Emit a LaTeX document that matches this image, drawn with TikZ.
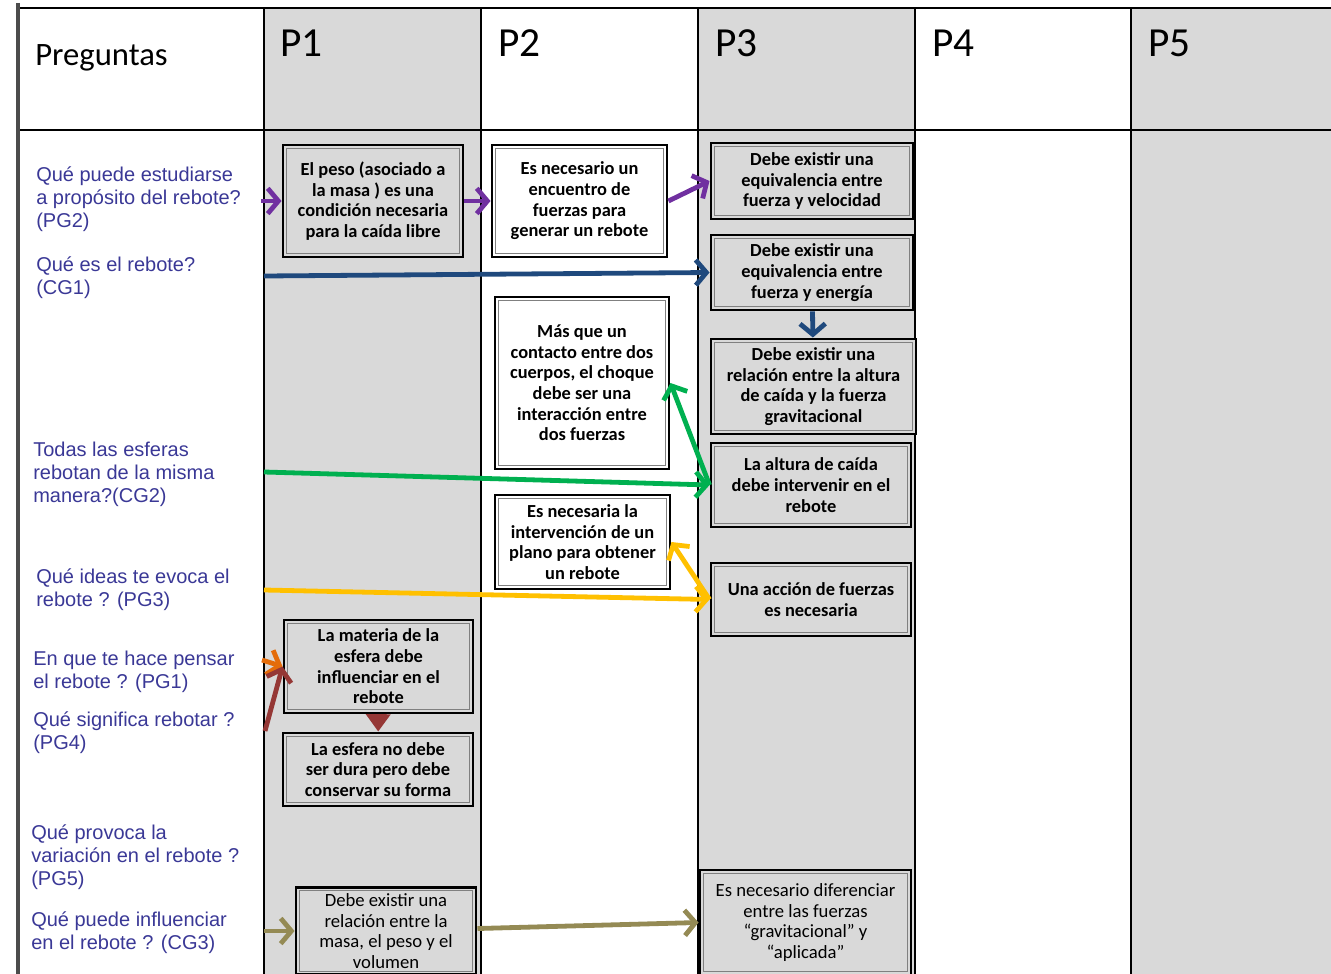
\documentclass[tikz,border=0pt]{standalone}
\usepackage{fontspec}
\setmainfont{Carlito}
\newfontfamily\askfont{Liberation Sans}
\usetikzlibrary{arrows.meta}
\definecolor{cellgray}{RGB}{217,217,217}
\definecolor{askblue}{RGB}{58,56,150}
\definecolor{cpurple}{RGB}{112,48,160}
\definecolor{cblue}{RGB}{31,73,125}
\definecolor{cgreen}{RGB}{0,176,80}
\definecolor{cyellow}{RGB}{255,192,0}
\definecolor{corange}{RGB}{228,108,10}
\definecolor{cbrown}{RGB}{149,55,53}
\definecolor{colive}{RGB}{148,138,84}

\begin{document}
\begin{tikzpicture}[x=0.75pt, y=-0.75pt, >={Straight Barb[length=8pt, width=19pt]},
    idea/.style = {draw, line width=2.2pt, align=center, inner sep=2pt,
      font=\bfseries\fontsize{13.8}{15.5}\selectfont,
      path picture={\draw[gray, line width=0.8pt]
        ([shift={(2.3pt,2.3pt)}]path picture bounding box.south west) rectangle
        ([shift={(-2.3pt,-2.3pt)}]path picture bounding box.north east);}},
    gbox/.style = {idea, fill=cellgray},
    wbox/.style = {idea, fill=white},
    ask/.style = {anchor=base west, align=left, inner sep=0pt, text=askblue,
      font=\askfont\fontsize{15}{16.9}\selectfont},
    head/.style = {anchor=base west, inner sep=0pt, font=\fontsize{31}{31}\selectfont},
    flow/.style = {->, line width=3.6pt}]
    \useasboundingbox (0,0) rectangle (1331,974);

    % Table
    \fill[cellgray] (264,8) rectangle (481,974);
    \fill[cellgray] (698,8) rectangle (915,974);
    \fill[cellgray] (1131,8) rectangle (1331,974);
    \draw[line width=1.8pt] (18,8) -- (1331,8);
    \draw[line width=1.6pt] (18,130) -- (1331,130);
    \foreach \x in {264,481,698,915,1131}
      \draw[line width=1.3pt] (\x,8) -- (\x,974);
    \draw[line width=2.4pt, black!70] (18,3) -- (18,974);

    \node[head, font=\fontsize{24.5}{24.5}\selectfont] (hq) at (35,66) {Preguntas};
    \node[head] (h1) at (280,57) {P1};
    \node[head] (h2) at (498,57) {P2};
    \node[head] (h3) at (715,57) {P3};
    \node[head] (h4) at (932,57) {P4};
    \node[head] (h5) at (1148,57) {P5};

    % Questions (placed at the baseline of their last line)
    \node[ask] (q1) at (36,227) {Qué puede estudiarse\\a propósito del rebote?\\(PG2)};
    \node[ask] (q2) at (36,294) {Qué es el rebote?\\(CG1)};
    \node[ask] (q3) at (33,502) {Todas las esferas\\rebotan de la misma\\manera?(CG2)};
    \node[ask] (q4) at (36,606) {Qué ideas te evoca el\\rebote ? (PG3)};
    \node[ask] (q5) at (33,688) {En que te hace pensar\\el rebote ? (PG1)};
    \node[ask] (q6) at (33,749) {Qué significa rebotar ?\\(PG4)};
    \node[ask] (q7) at (31,885) {Qué provoca la\\variación en el rebote ?\\(PG5)};
    \node[ask] (q8) at (31,949) {Qué puede influenciar\\en el rebote ? (CG3)};

    % Nodes
    \node[gbox, minimum width=135pt, minimum height=84pt] (b1) at (373,201)
      {El peso (asociado a\\la masa ) es una\\condición necesaria\\para la caída libre};
    \node[gbox, minimum width=141.75pt, minimum height=69.75pt] (b2) at (378.5,666.5)
      {La materia de la\\esfera debe\\influenciar en el\\rebote};
    \node[gbox, minimum width=142.5pt, minimum height=54.75pt] (b3) at (378,769.5)
      {La esfera no debe\\ser dura pero debe\\conservar su forma};
    \node[gbox, font=\fontsize{14}{15.5}\selectfont, minimum width=135pt, minimum height=65pt] (b4) at (386,931)
      {Debe existir una\\relación entre la\\masa, el peso y el\\volumen};

    \node[wbox, minimum width=131.25pt, minimum height=84pt] (c1) at (579.5,201)
      {Es necesario un\\encuentro de\\fuerzas para\\generar un rebote};
    \node[wbox, minimum width=130.5pt, minimum height=129pt] (c2) at (582,383)
      {Más que un\\contacto entre dos\\cuerpos, el choque\\debe ser una\\interacción entre\\dos fuerzas};
    \node[wbox, minimum width=131.25pt, minimum height=70.5pt] (c3) at (582.5,542)
      {Es necesaria la\\intervención de un\\plano para obtener\\un rebote};

    \node[gbox, minimum width=151.5pt, minimum height=57pt] (d1) at (812,181)
      {Debe existir una\\equivalencia entre\\fuerza y velocidad};
    \node[gbox, minimum width=151.5pt, minimum height=56.25pt] (d2) at (812,272.5)
      {Debe existir una\\equivalencia entre\\fuerza y energía};
    \node[gbox, minimum width=153.75pt, minimum height=71.25pt] (d3) at (813.5,386.5)
      {Debe existir una\\relación entre la altura\\de caída y la fuerza\\gravitacional};
    \node[gbox, minimum width=150pt, minimum height=63pt] (d4) at (811,485)
      {La altura de caída\\debe intervenir en el\\rebote};
    \node[gbox, minimum width=150pt, minimum height=54.75pt] (d5) at (811,599.5)
      {Una acción de fuerzas\\es necesaria};
    \node[gbox, font=\fontsize{14}{15.5}\selectfont, minimum width=158.25pt, minimum height=78.75pt] (d6) at (805.5,922.5)
      {Es necesario diferenciar\\entre las fuerzas\\“gravitacional” y\\“aplicada”};

    % Edges
    \coordinate (a1) at (261,201);
    \coordinate (a2) at (264,276);
    \coordinate (a3) at (264,472);
    \coordinate (a4) at (264,590);
    \coordinate (a5) at (262,660);
    \coordinate (a6) at (265,731);
    \coordinate (a8) at (264,931);

    \draw[flow, cpurple] (a1) to (b1);
    \draw[flow, cpurple] (b1) to (c1);
    \draw[flow, cpurple] (c1.east) to (d1.west);
    \draw[flow, cblue] (a2) to (d2.west);
    \draw[flow, cblue] (d2) to (d3);
    \draw[flow, cgreen] (a3) to (d4.west);
    \draw[flow, cgreen] (d4.west) to (c2.east);
    \draw[flow, cyellow] (a4) to (d5.west);
    \draw[flow, cyellow] (d5.west) to (c3.east);
    \draw[flow, corange] (a5) to (b2.west);
    \draw[flow, cbrown] (a6) to (b2.west);
    \draw[line width=3pt, cbrown, -{Triangle[length=13pt, width=18pt]}] (b2) to (b3);
    \draw[flow, colive] (a8) to (b4);
    \draw[flow, colive] (b4) to (d6.west);
\end{tikzpicture}
\end{document}
